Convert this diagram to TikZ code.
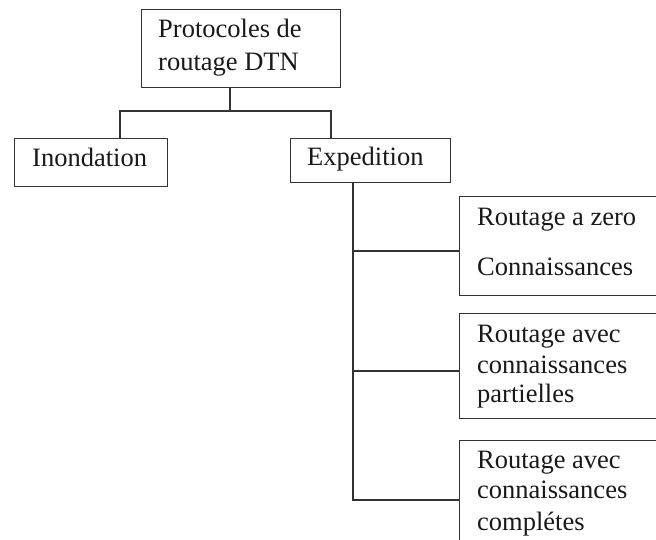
\documentclass[tikz,border=0pt]{standalone}
\usepackage{fontspec}
\setmainfont{Liberation Serif}
\begin{document}
\begin{tikzpicture}[x=1pt,y=-1pt,
  box/.style={draw=black!80,line width=1.1pt,rectangle,inner sep=0pt,anchor=north west},
  lbl/.style={anchor=base west,inner sep=0pt,font=\fontsize{26.5}{30}\selectfont,text=black!90},
  conn/.style={draw=black!80,line width=1.1pt}]
\useasboundingbox (0,0) rectangle (656,539);
\clip (0,0) rectangle (656,539);
% boxes
\node[box,minimum width=199pt,minimum height=78pt] (top) at (141,9) {};
\node[box,minimum width=153pt,minimum height=48pt] (inond) at (14,138) {};
\node[box,minimum width=160pt,minimum height=44pt] (exped) at (290,138) {};
\node[box,minimum width=220pt,minimum height=99pt] (r1) at (459,196) {};
\node[box,minimum width=220pt,minimum height=105pt] (r2) at (459,313) {};
\node[box,minimum width=220pt,minimum height=120pt] (r3) at (459,440) {};
% texts
\node[lbl] (t1) at (158,37) {Protocoles de};
\node[lbl] (t2) at (158,70) {routage DTN};
\node[lbl] (t3) at (32,166) {Inondation};
\node[lbl] (t4) at (307,165) {Expedition};
\node[lbl] (t5) at (477,225) {Routage a zero};
\node[lbl] (t6) at (477,275) {Connaissances};
\node[lbl] (t7) at (477,342) {Routage avec};
\node[lbl] (t8) at (477,373) {connaissances};
\node[lbl] (t9) at (477,402) {partielles};
\node[lbl] (t10) at (477,468) {Routage avec};
\node[lbl] (t11) at (477,498) {connaissances};
\node[lbl] (t12) at (477,530) {complétes};
% junction coordinates
\coordinate (j) at (230,111);
\coordinate (jl) at (120,111);
\coordinate (jr) at (331,111);
\coordinate (e) at (353,0);
\coordinate (c1) at (459,251);
\coordinate (c2) at (459,371);
\coordinate (c3) at (459,500);
% connectors
\draw[conn] (j |- top.south) -- (j);
\draw[conn] (jl |- inond.north) -- (jl) -- (jr) -- (jr |- exped.north);
\draw[conn] (e |- exped.south) -- (e |- c3) -- (c3);
\draw[conn] (e |- c1) -- (c1);
\draw[conn] (e |- c2) -- (c2);
\end{tikzpicture}
\end{document}
